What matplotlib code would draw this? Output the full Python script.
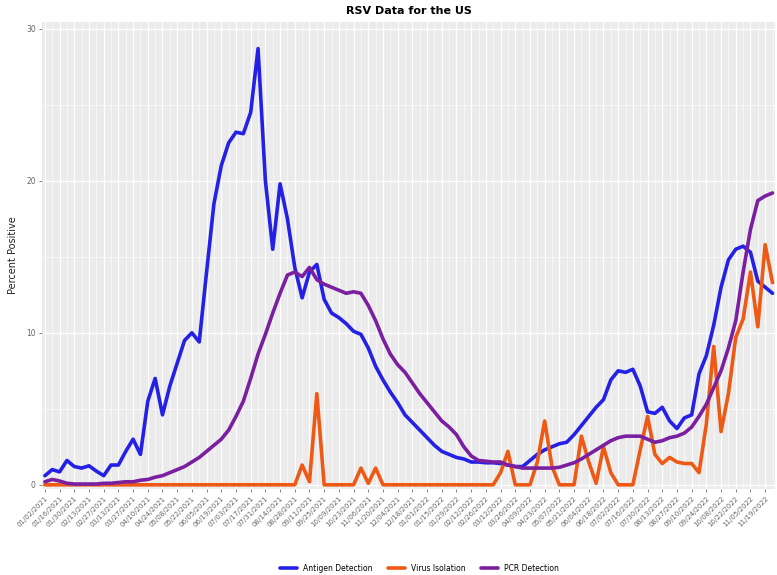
import numpy as np
import pandas as pd
import matplotlib
matplotlib.use("Agg")
import matplotlib.pyplot as plt

# weekly reporting dates
weeks = pd.date_range("2021-01-02", periods=100, freq="7D")

antigen = [0.6, 1.0, 0.85, 1.6, 1.2, 1.1, 1.25, 0.9, 0.6, 1.3,
           1.3, 2.2, 3.0, 2.0, 5.5, 7.0, 4.6, 6.5, 8.0, 9.5,
           10.0, 9.4, 14.0, 18.5, 21.0, 22.5, 23.2, 23.1, 24.5, 28.7,
           20.0, 15.5, 19.8, 17.5, 14.3, 12.3, 14.0, 14.5, 12.2, 11.3,
           11.0, 10.6, 10.1, 9.9, 9.0, 7.8, 6.9, 6.1, 5.4, 4.6,
           4.1, 3.6, 3.1, 2.6, 2.2, 2.0, 1.8, 1.7, 1.5, 1.5,
           1.45, 1.45, 1.4, 1.3, 1.2, 1.2, 1.6, 2.0, 2.3, 2.5,
           2.7, 2.8, 3.3, 3.9, 4.5, 5.1, 5.6, 6.9, 7.5, 7.4,
           7.6, 6.5, 4.8, 4.7, 5.1, 4.2, 3.7, 4.4, 4.6, 7.3,
           8.5, 10.5, 13.0, 14.8, 15.5, 15.7, 15.3, 13.4, 13.0, 12.6]

virus_isolation = [0] * 35 + [1.3, 0.2, 6.0, 0, 0,
                              0, 0, 0, 1.1, 0.1, 1.1, 0, 0, 0, 0,
                              0, 0, 0, 0, 0, 0, 0, 0, 0, 0,
                              0, 0, 0.8, 2.2, 0, 0, 0, 1.5, 4.2, 1.2,
                              0, 0, 0, 3.2, 1.5, 0.1, 2.5, 0.8, 0, 0,
                              0, 2.3, 4.5, 2.0, 1.4, 1.8, 1.5, 1.4, 1.4, 0.8,
                              4.0, 9.1, 3.5, 6.0, 9.7, 10.9, 14.0, 10.4, 15.8, 13.3]

pcr = [0.2, 0.35, 0.25, 0.1, 0.05, 0.05, 0.05, 0.05, 0.1, 0.1,
       0.15, 0.2, 0.2, 0.3, 0.35, 0.5, 0.6, 0.8, 1.0, 1.2,
       1.5, 1.8, 2.2, 2.6, 3.0, 3.6, 4.5, 5.5, 7.0, 8.6,
       9.9, 11.3, 12.6, 13.8, 14.0, 13.7, 14.3, 13.5, 13.2, 13.0,
       12.8, 12.6, 12.7, 12.6, 11.8, 10.8, 9.6, 8.6, 7.9, 7.4,
       6.7, 6.0, 5.4, 4.8, 4.2, 3.8, 3.3, 2.5, 1.9, 1.6,
       1.55, 1.5, 1.5, 1.3, 1.2, 1.1, 1.1, 1.1, 1.1, 1.1,
       1.15, 1.3, 1.45, 1.7, 2.0, 2.3, 2.6, 2.9, 3.1, 3.2,
       3.2, 3.2, 3.0, 2.8, 2.9, 3.1, 3.2, 3.4, 3.8, 4.5,
       5.3, 6.4, 7.5, 9.0, 10.8, 14.0, 16.8, 18.7, 19.0, 19.2]

series = [("Antigen Detection", antigen, "#2420E6"),
          ("Virus Isolation", virus_isolation, "#EE5A16"),
          ("PCR Detection", pcr, "#7A1FA0")]

fig = plt.figure(figsize=(7.77, 5.75), dpi=100)
ax = fig.add_axes([0.054, 0.150, 0.944, 0.812])
ax.set_facecolor("#EBEBEB")

x = np.arange(len(weeks))
for name, vals, col in series:
    ax.plot(x, vals, color=col, lw=2.6, label=name,
            solid_joinstyle="round", solid_capstyle="round", zorder=3)

ax.set_xlim(-0.4, len(weeks) - 0.6)
ax.set_ylim(-0.26, 30.46)

major = x[::2]
ax.set_xticks(major)
ax.set_xticklabels([d.strftime("%m/%d/%Y") for d in weeks[::2]],
                   rotation=45, ha="right", rotation_mode="anchor",
                   fontsize=5, color="#666666")
ax.set_xticks(x[1::2], minor=True)
ax.set_yticks([0, 10, 20, 30])
ax.set_yticks([5, 15, 25], minor=True)
ax.tick_params(axis="y", labelsize=5.5, labelcolor="#666666")
ax.tick_params(which="major", length=2.5, width=0.5, color="#555555", pad=2)
ax.tick_params(which="minor", length=0)

ax.grid(which="major", color="white", lw=0.8)
ax.grid(which="minor", color="white", lw=0.4)
ax.set_axisbelow(True)
for s in ax.spines.values():
    s.set_visible(False)

ax.set_ylabel("Percent Positive", fontsize=7, color="#222222", labelpad=6)
ax.set_title("RSV Data for the US", fontsize=8, fontweight="bold", pad=6)

fig.legend(loc="center", bbox_to_anchor=(0.54, 0.012), ncol=3, frameon=False,
           fontsize=5.5, handlelength=2.2, columnspacing=2.0, handletextpad=0.8)

fig.savefig("out.png", dpi=100)
